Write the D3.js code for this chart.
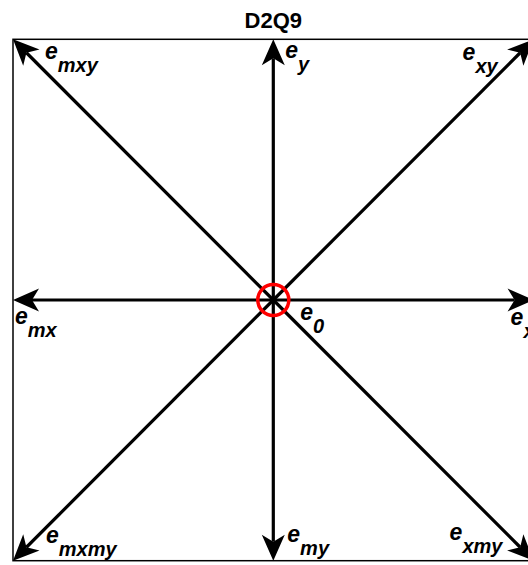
<!DOCTYPE html>
<html>
<head>
    <meta charset="utf-8">
    <title>D2Q9</title>
    <script type="text/javascript" src="https://d3js.org/d3.v7.min.js"></script>
    <style type="text/css">
        html, body {
            margin: 0;
            padding: 0;
            background: white;
            overflow: hidden;
        }
        svg {
            display: block;
            font-family: 'Liberation Sans', Arial, sans-serif;
        }
        .frame {
            fill: none;
            stroke: black;
            stroke-width: 1.5px;
        }
        .stem {
            stroke: black;
            stroke-width: 3.2px;
        }
        .head {
            fill: black;
        }
        .rest {
            fill: none;
            stroke: #ff0000;
            stroke-width: 3.5px;
        }
        .label {
            font-weight: bold;
            font-style: italic;
        }
    </style>
</head>
<body>
    <svg id="chart" width="528" height="565"></svg>
    <script type="text/javascript">
        // the nine lattice velocities of D2Q9
        var names = ["0", "x", "y", "mx", "my", "xy", "mxy", "mxmy", "xmy"];
        var ex    = [ 0,   1,   0,   -1,   0,    1,    -1,    -1,     1  ];
        var ey    = [ 0,   0,   1,    0,  -1,    1,     1,    -1,    -1  ];

        // label nudges in px from the tip of each arrow (same order as names)
        var labelDx = [27, -23, 12,  2, 14, -71,  32,  33, -84];
        var labelDy = [20,  25, 19, 24, -19, 21,  20, -18, -21];

        var svg = d3.select("#chart");

        var x = d3.scaleLinear().domain([-1, 1]).range([13, 533.6]),
            y = d3.scaleLinear().domain([-1, 1]).range([560.7, 39.3]);

        var vectors = names.map(function(n, i) {
            return {name: n, ex: ex[i], ey: ey[i], dx: labelDx[i], dy: labelDy[i]};
        });

        // square frame
        svg.append("rect")
            .attr("class", "frame")
            .attr("x", x(-1))
            .attr("y", y(1))
            .attr("width", x(1) - x(-1))
            .attr("height", y(-1) - y(1));

        svg.append("text")
            .attr("x", x(0))
            .attr("y", 28)
            .attr("text-anchor", "middle")
            .style("font-weight", "bold")
            .style("font-size", "22px")
            .text("D2Q9");

        // arrow head: tip at origin pointing +x, concave back
        var headLen = 26, headHalf = 11.5, notch = 7;
        var headPath = "M0,0L" + (-headLen) + "," + (-headHalf) +
            "L" + (-headLen + notch) + ",0L" + (-headLen) + "," + headHalf + "Z";

        var moving = vectors.filter(function(d) { return d.ex || d.ey; });

        var arrows = svg.selectAll("g.arrow")
            .data(moving)
            .enter().append("g")
            .attr("class", "arrow");

        arrows.append("line")
            .attr("class", "stem")
            .attr("x1", x(0))
            .attr("y1", y(0))
            .attr("x2", function(d) {
                var tx = x(d.ex), ty = y(d.ey),
                    len = Math.hypot(tx - x(0), ty - y(0));
                return tx - (tx - x(0)) / len * (headLen - notch);
            })
            .attr("y2", function(d) {
                var tx = x(d.ex), ty = y(d.ey),
                    len = Math.hypot(tx - x(0), ty - y(0));
                return ty - (ty - y(0)) / len * (headLen - notch);
            });

        arrows.append("path")
            .attr("class", "head")
            .attr("d", headPath)
            .attr("transform", function(d) {
                var ang = Math.atan2(y(d.ey) - y(0), x(d.ex) - x(0)) * 180 / Math.PI;
                return "translate(" + x(d.ex) + "," + y(d.ey) + ")rotate(" + ang + ")";
            });

        // rest particle
        svg.append("circle")
            .attr("class", "rest")
            .attr("cx", x(0))
            .attr("cy", y(0))
            .attr("r", 15.5);

        var labels = svg.selectAll("text.label")
            .data(vectors)
            .enter().append("text")
            .attr("class", "label")
            .attr("x", function(d) { return x(d.ex) + d.dx; })
            .attr("y", function(d) { return y(d.ey) + d.dy; });

        labels.append("tspan")
            .style("font-size", "23px")
            .text("e");
        labels.append("tspan")
            .attr("dy", 13)
            .style("font-size", "20px")
            .text(function(d) { return d.name; });
    </script>
</body>
</html>
